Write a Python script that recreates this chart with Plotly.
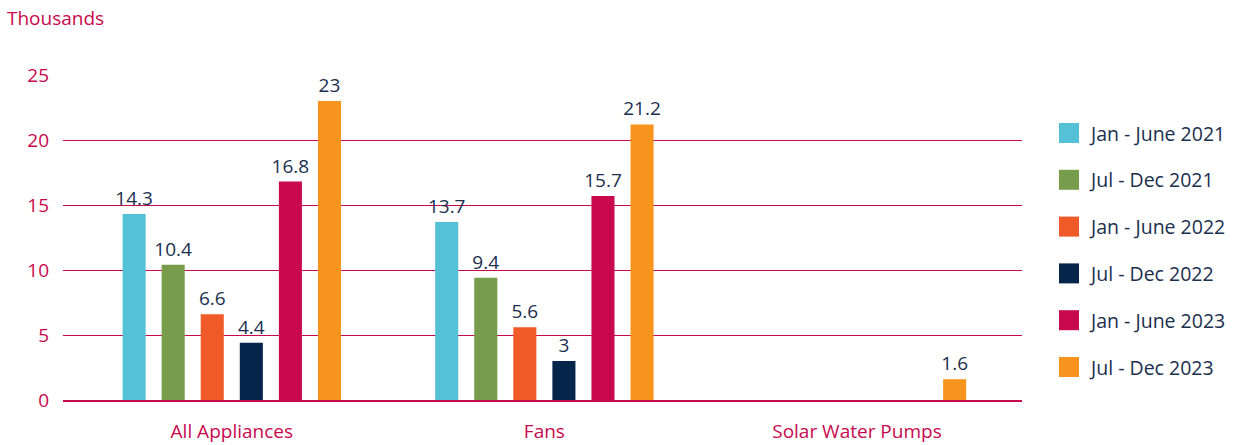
import plotly.graph_objects as go

# Appliance sales (thousands) by half-year period
categories = ["All Appliances", "Fans", "Solar Water Pumps"]
periods = ["Jan - June 2021", "Jul - Dec 2021", "Jan - June 2022",
           "Jul - Dec 2022", "Jan - June 2023", "Jul - Dec 2023"]
jan_jun_2021 = [14.3, 13.7, None]
jul_dec_2021 = [10.4, 9.4, None]
jan_jun_2022 = [6.6, 5.6, None]
jul_dec_2022 = [4.4, 3, None]
jan_jun_2023 = [16.8, 15.7, None]
jul_dec_2023 = [23, 21.2, 1.6]
y_ticks = [0, 5, 10, 15, 20, 25]

series = [jan_jun_2021, jul_dec_2021, jan_jun_2022,
          jul_dec_2022, jan_jun_2023, jul_dec_2023]
colors = ["#55C1D6", "#769C4C", "#F05A28", "#06254A", "#C8094E", "#F7941D"]

PINK = "#C8094E"
NAVY = "#1B2F4E"
FONT = "Open Sans"
W = 500

fig = go.Figure()
for name, vals, col in zip(periods, series, colors):
    fig.add_trace(go.Bar(
        x=categories, y=vals, name=name,
        marker=dict(color=col, line=dict(width=0)),
        text=[("" if v is None else f"{v:g}") for v in vals],
        textposition="outside", cliponaxis=False, constraintext="none",
        textfont=dict(family=FONT, size=19, color=NAVY, weight=W),
        showlegend=False,
    ))

# Legend drawn as swatches + labels to the right of the plot
x0, x1 = 63, 1022
pw = x1 - x0
leg_top = 133
leg_step = 46.8
for i, (name, col) in enumerate(zip(periods, colors)):
    cy = leg_top + i * leg_step
    fig.add_shape(type="rect", xref="paper", yref="paper",
                  x0=(1059 - x0) / pw, x1=(1079 - x0) / pw,
                  y0=(400 - (cy - 10)) / 325, y1=(400 - (cy + 10)) / 325,
                  fillcolor=col, line=dict(width=0))
    fig.add_annotation(xref="paper", yref="paper",
                       x=(1087 - x0) / pw, y=(400 - cy) / 325,
                       text=name, showarrow=False, xanchor="left", yanchor="middle",
                       font=dict(family=FONT, size=19.5, color=NAVY, weight=W))

fig.add_annotation(xref="paper", yref="paper", x=(5 - x0) / pw, y=(400 - 18) / 325,
                   text="Thousands", showarrow=False, xanchor="left", yanchor="middle",
                   font=dict(family=FONT, size=19, color=PINK, weight=W))

fig.update_layout(
    width=1249, height=445,
    margin=dict(l=63, r=227, t=75, b=45),
    paper_bgcolor="white", plot_bgcolor="white",
    barmode="group", bargap=0.25, bargroupgap=0.41,
    font=dict(family=FONT, color=PINK),
    xaxis=dict(range=[-0.54, 2.528], showgrid=False, showline=True,
               linecolor=PINK, linewidth=2, ticks="", ticklabelstandoff=13,
               automargin=False,
               tickfont=dict(family=FONT, size=19, color=PINK, weight=W)),
    yaxis=dict(range=[0, 25], tickvals=y_ticks, showgrid=True, gridcolor=PINK,
               gridwidth=1, zeroline=False, showline=False, ticks="",
               ticklabelstandoff=13, automargin=False,
               tickfont=dict(family=FONT, size=19, color=PINK, weight=W)),
)

fig.write_html("out.html")
